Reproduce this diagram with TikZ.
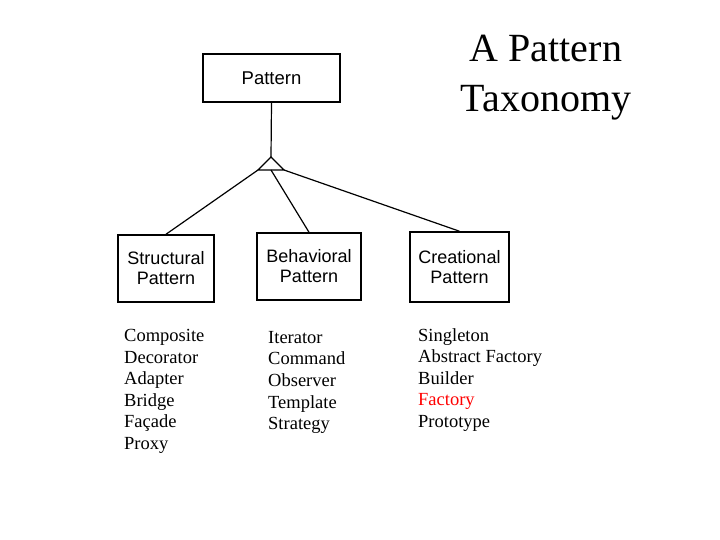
\documentclass[tikz,border=0pt]{standalone}
\usepackage{fontspec}
\setmainfont{Liberation Serif}
\setsansfont{Liberation Sans}
\usetikzlibrary{positioning}
\begin{document}
\begin{tikzpicture}
[x=1pt,y=-1pt,
box/.style={draw,line width=1.5pt,align=center,font=\sffamily\fontsize{18}{20}\selectfont,inner sep=0pt},
items/.style={align=left,anchor=north west,font=\fontsize{18.5}{21.6}\selectfont,inner sep=0pt},
link/.style={line width=1.2pt},
]
\useasboundingbox (0,0) rectangle (720,540);
\node[box,minimum width=137pt,minimum height=48pt,font=\sffamily\fontsize{18.5}{20}\selectfont] (pattern) at (271.5,78) {Pattern};
\node[align=center,font=\fontsize{40}{50}\selectfont] (title) at (546,78) {A Pattern\\Taxonomy};
% inheritance triangle
\coordinate (apex) at (271,157);
\coordinate (tl) at (258,170);
\coordinate (tm) at (271,170);
\coordinate (tr) at (284,170);
\draw[link] (pattern.south) -- (apex);
\draw[link] (apex) -- (tl) -- (tr) -- cycle;
\node[box,minimum width=96pt,minimum height=67pt] (struct) at (166,268.5) {Structural\\Pattern};
\node[box,minimum width=104pt,minimum height=67pt] (behav) at (309,266.5) {Behavioral\\Pattern};
\node[box,minimum width=99pt,minimum height=70pt] (creat) at (459.5,267) {Creational\\Pattern};
\draw[link] (tl) -- (struct.north);
\draw[link] (tm) -- (behav.north);
\draw[link] (tr) -- (creat.north);
\node[items] (slist) at (124,329) {Composite\\Decorator\\Adapter\\Bridge\\Façade\\Proxy};
\node[items] (blist) at (268,331) {Iterator\\Command\\Observer\\Template\\Strategy};
\node[items] (clist) at (418,328) {Singleton\\Abstract Factory\\Builder\\\textcolor{red}{Factory}\\Prototype};
\end{tikzpicture}
\end{document}
